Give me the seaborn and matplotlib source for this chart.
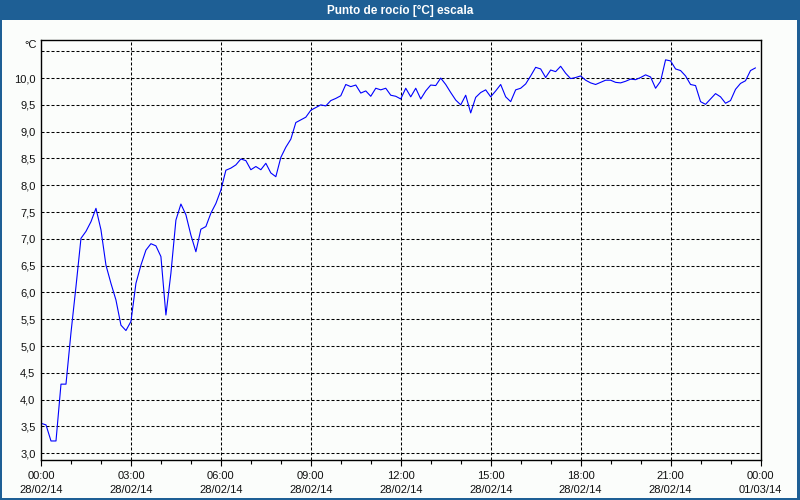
import numpy as np
import pandas as pd
import matplotlib
matplotlib.use("Agg")
import matplotlib.pyplot as plt
import matplotlib.dates as mdates
from matplotlib.patches import Rectangle
import seaborn as sns

# ---------------- data ----------------
title = "Punto de rocío [°C] escala"
unit_label = "°C"
start_time = "2014-02-28 00:00"
step = "10min"

dew_point = [
    # 00:00 - 06:00
    3.56, 3.53, 3.23, 3.23, 4.29, 4.29, 5.25, 6.11, 7.01, 7.14, 7.32, 7.57,
    7.17, 6.51, 6.17, 5.86, 5.39, 5.29, 5.46, 6.17, 6.51, 6.79, 6.91, 6.87,
    6.67, 5.58, 6.36, 7.35, 7.65, 7.45, 7.07, 6.76, 7.18, 7.23, 7.48, 7.66,
    7.91,
    # 06:10 - 12:00
    8.28, 8.32, 8.38, 8.49, 8.46, 8.29, 8.35, 8.29, 8.41, 8.23, 8.16, 8.52,
    8.71, 8.86, 9.17, 9.22, 9.27, 9.40, 9.45, 9.50, 9.48, 9.58, 9.62, 9.67,
    9.88, 9.84, 9.87, 9.72, 9.76, 9.66, 9.81, 9.78, 9.81, 9.68, 9.66, 9.61,
    # 12:10 - 18:00
    9.81, 9.65, 9.81, 9.61, 9.76, 9.87, 9.86, 10.00, 9.88, 9.73, 9.59, 9.50,
    9.68, 9.35, 9.64, 9.73, 9.78, 9.65, 9.76, 9.88, 9.65, 9.56, 9.78, 9.81,
    9.89, 10.04, 10.20, 10.17, 10.01, 10.15, 10.12, 10.22, 10.09, 9.99, 10.01, 10.04,
    # 18:10 - 23:50
    9.96, 9.91, 9.88, 9.92, 9.96, 9.96, 9.92, 9.91, 9.94, 9.98, 9.97, 10.01,
    10.06, 10.02, 9.81, 9.94, 10.34, 10.32, 10.17, 10.14, 10.04, 9.88, 9.86, 9.56,
    9.51, 9.61, 9.71, 9.65, 9.53, 9.58, 9.79, 9.90, 9.95, 10.14, 10.19,
]

x_tick_times = ["2014-02-28 00:00", "2014-02-28 03:00", "2014-02-28 06:00",
                "2014-02-28 09:00", "2014-02-28 12:00", "2014-02-28 15:00",
                "2014-02-28 18:00", "2014-02-28 21:00", "2014-03-01 00:00"]
x_tick_labels = ["00:00\n28/02/14", "03:00\n28/02/14", "06:00\n28/02/14",
                 "09:00\n28/02/14", "12:00\n28/02/14", "15:00\n28/02/14",
                 "18:00\n28/02/14", "21:00\n28/02/14", "00:00\n01/03/14"]
y_ticks = [3.0, 3.5, 4.0, 4.5, 5.0, 5.5, 6.0, 6.5, 7.0, 7.5, 8.0, 8.5, 9.0,
           9.5, 10.0, 10.5]
y_tick_labels = ["3,0", "3,5", "4,0", "4,5", "5,0", "5,5", "6,0", "6,5",
                 "7,0", "7,5", "8,0", "8,5", "9,0", "9,5", "10,0", ""]

df = pd.DataFrame({
    "time": pd.date_range(start_time, periods=len(dew_point), freq=step),
    "value": dew_point,
})

# ---------------- style ----------------
sns.set_style("white")
plt.rcParams["font.family"] = ["Liberation Sans", "DejaVu Sans"]

BG = "#fbfdfb"
BAR = "#1e5f95"
TXT = "#111111"

fig = plt.figure(figsize=(8, 5), dpi=100, facecolor=BG)
ax = fig.add_axes([41 / 800, 40 / 500, 719.5 / 800, 420 / 500])
ax.set_facecolor(BG)

sns.lineplot(data=df, x="time", y="value", ax=ax, color="#0000ff",
             linewidth=0.8, legend=False)

x0 = pd.Timestamp(x_tick_times[0])
x1 = pd.Timestamp(x_tick_times[-1])
ax.set_xlim(x0, x1)
ax.set_ylim(2.875, 10.71)

ax.set_xticks([pd.Timestamp(t) for t in x_tick_times])
ax.set_xticklabels(x_tick_labels, linespacing=1.45, fontsize=8, color=TXT)
ax.xaxis.set_minor_locator(mdates.HourLocator(interval=1))
ax.set_yticks(y_ticks)
ax.set_yticklabels(y_tick_labels, fontsize=8, color=TXT)

ax.tick_params(axis="x", which="major", length=4, width=0.8, color="black",
               pad=4, direction="out", bottom=True)
ax.tick_params(axis="x", which="minor", length=3, width=0.8, color="black",
               direction="out", bottom=True)
ax.tick_params(axis="y", length=0, pad=4)

ax.set_xlabel("")
ax.set_ylabel("")

# dashed grid
for v in y_ticks:
    ax.axhline(v, color="black", linewidth=0.75, linestyle=(0, (2.9, 1.9)),
               zorder=0.5)
for t in x_tick_times[1:-1]:
    ax.axvline(pd.Timestamp(t), color="black", linewidth=0.75,
               linestyle=(0, (2.9, 1.9)), zorder=0.5)

for s in ax.spines.values():
    s.set_visible(True)
    s.set_color("black")
    s.set_linewidth(1.0)

# unit label
fig.text(37 / 800, 1 - 45 / 500, unit_label, ha="right", va="center",
         fontsize=8, color=TXT)

# title bar
fig.patches.append(Rectangle((0, 1 - 20 / 500), 1, 20 / 500,
                             transform=fig.transFigure, facecolor=BAR,
                             edgecolor="none", zorder=0))
fig.text(0.5, 1 - 10.5 / 500, title, ha="center", va="center", fontsize=8.5,
         fontweight="bold", color="white")
# window border
fig.patches.append(Rectangle((0, 0), 2 / 800, 1, transform=fig.transFigure,
                             facecolor=BAR, edgecolor="none"))
fig.patches.append(Rectangle((1 - 3 / 800, 0), 3 / 800, 1,
                             transform=fig.transFigure, facecolor=BAR,
                             edgecolor="none"))
fig.patches.append(Rectangle((0, 0), 1, 2 / 500, transform=fig.transFigure,
                             facecolor=BAR, edgecolor="none"))

fig.savefig("out.png", dpi=100, facecolor=BG)
